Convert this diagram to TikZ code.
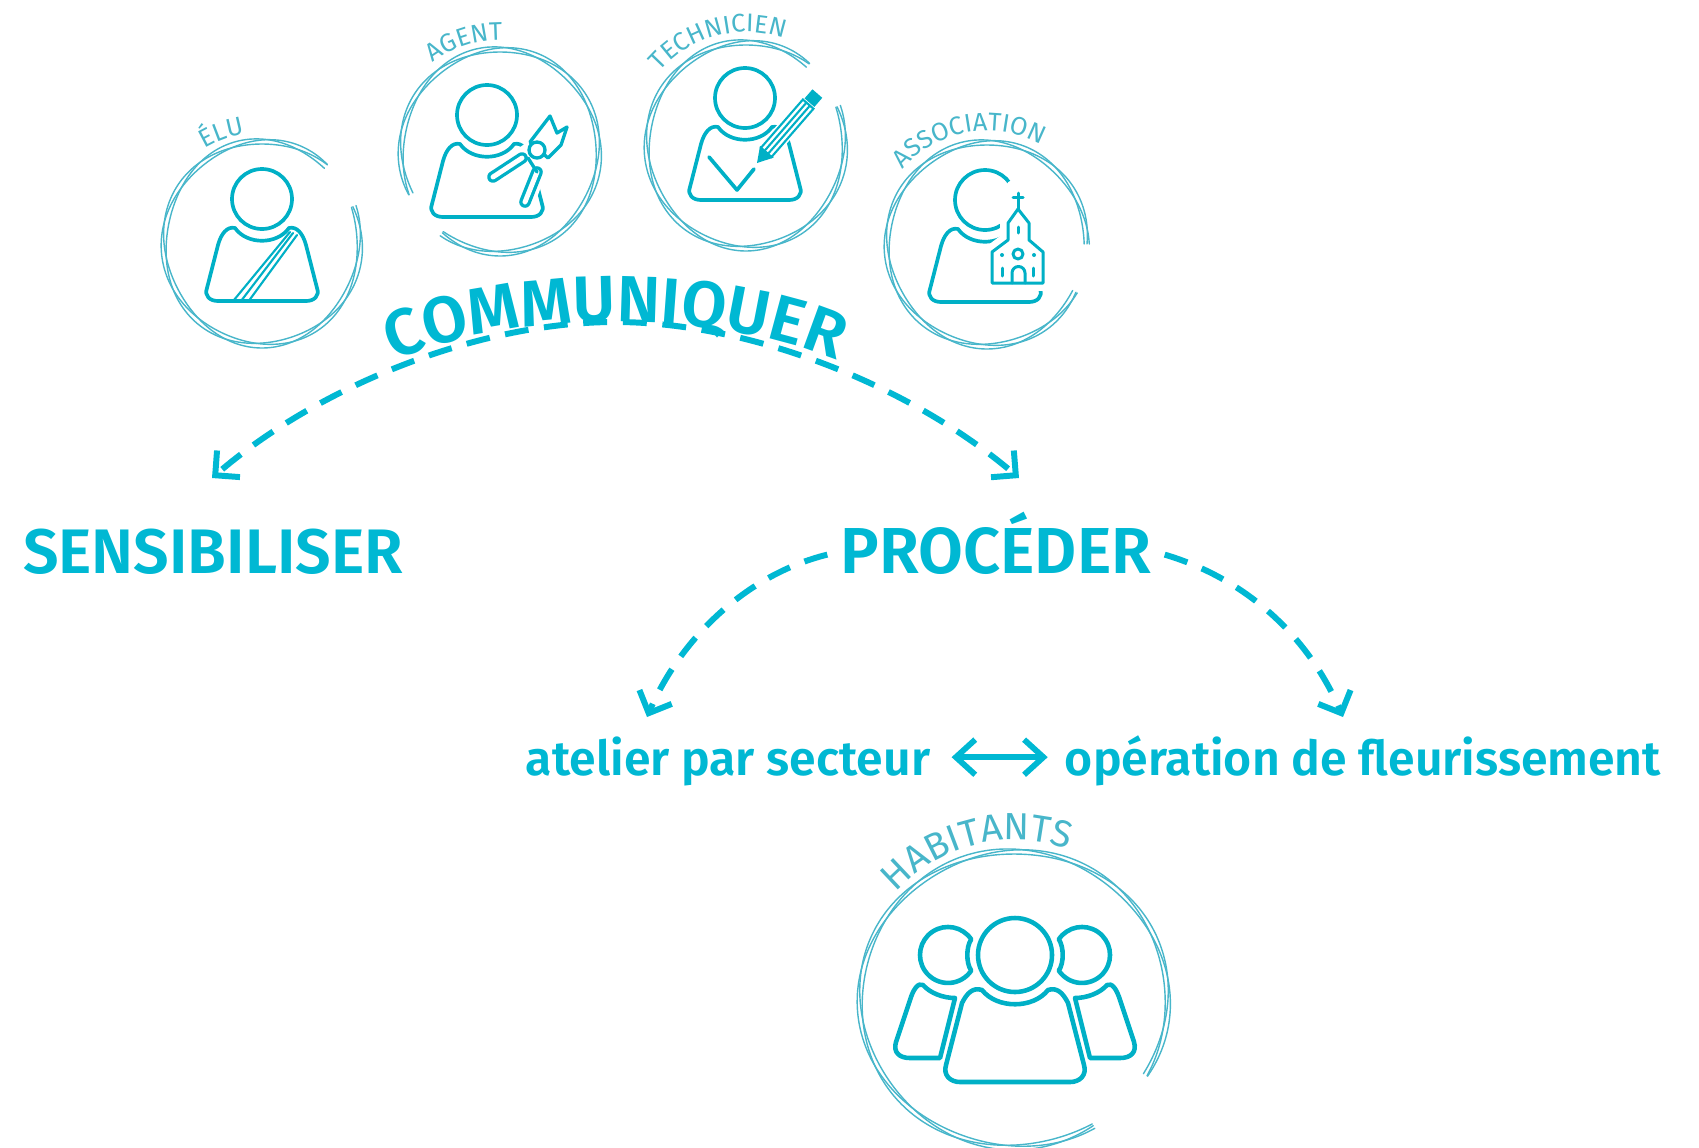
\documentclass[tikz,border=0pt]{standalone}
\usepackage{fontspec}
\usetikzlibrary{arrows.meta}
\usetikzlibrary{decorations.text}
\newfontfamily\headfont{Fira Sans SemiBold}
\newfontfamily\ringfont{Fira Sans}
\definecolor{headblue}{RGB}{0,184,211}
\definecolor{iconblue}{RGB}{0,176,198}
\definecolor{ringblue}{RGB}{72,182,202}
\tikzset{
  headtext/.style={text=headblue,font=\headfont\fontsize{#1}{#1}\selectfont,inner ysep=0pt,inner xsep=7.4pt},
  subtext/.style={text=headblue,font=\headfont\fontsize{27.4}{27.4}\selectfont,inner ysep=0pt,text height=27.3pt,text depth=7pt},
  dasharrow/.style={draw=headblue,line width=3.4pt,dash pattern=on 13.6pt off 8.9pt,-{Straight Barb[length=10pt,width=20pt]}},
  plainarrow/.style={draw=headblue,line width=3.3pt,{Straight Barb[length=11pt,width=20pt]}-{Straight Barb[length=11pt,width=20pt]}},
  iconline/.style={draw=iconblue,line width=2.1pt,line join=round,line cap=round},
  churchline/.style={draw=iconblue,line width=1.7pt,line join=round,line cap=round},
  thinicon/.style={draw=iconblue,line width=1.2pt,line cap=round},
  ringline/.style={draw=ringblue,line width=0.8pt,line cap=round},
  eraser/.style={draw=white,line cap=round,line join=round}
}
\newcommand{\sketchring}[6]{%
  \foreach \phase in {0,130,250}
    \draw[ringline] plot[domain=#5:#6,samples=90,smooth,variable=\t]
      ({#1+(#3+3*sin(3*\t+\phase))*cos(\t)},{#2-(#4+3*sin(3*\t+\phase))*sin(\t)});
}
\newcommand{\ringlabel}[6]{%
  \path[decorate,decoration={text along path,text={|#6\color{ringblue}|#5},text align=center}]
    ({#1+#3*cos(#4+70)},{#2-#3*sin(#4+70)}) arc[start angle=-#4-70,end angle=-#4+70,radius=#3];
}
\newcommand{\personicon}[2]{%
  \begin{scope}[shift={(#1,#2)}]
    \draw[iconline] (0,0) circle (30);
    \draw[iconline] (-27,29) .. controls (-15,46) and (15,46) .. (27,29) .. controls (35,27) and (41,35) .. (44,46)
      -- (55,89) .. controls (58,97) and (52,102) .. (44,102) -- (-44,102) .. controls (-52,102) and (-58,97) .. (-55,89)
      -- (-44,46) .. controls (-41,35) and (-35,27) .. (-27,29) -- cycle;
  \end{scope}
}
\newcommand{\smallfont}{\ringfont\fontsize{14.5}{14.5}\selectfont}
\newcommand{\largefont}{\ringfont\fontsize{21.5}{21.5}\selectfont}
\begin{document}
\begin{tikzpicture}[x=0.02cm,y=-0.02cm]
  \useasboundingbox (0,0) rectangle (1699,1147);

  \sketchring{262}{243}{98}{102}{49}{381}
  \ringlabel{262}{243}{110}{110}{ÉLU}{\smallfont}
  \personicon{262}{199}
  \draw[thinicon] (290,232) -- (234,300);
  \draw[thinicon] (293,233) -- (241,301);
  \draw[thinicon] (297,235) -- (248,302);

  \sketchring{500}{151}{99}{102}{234}{565}
  \ringlabel{500}{151}{111}{108}{AGENT}{\smallfont}
  \personicon{487}{115}
  \draw[eraser,line width=11pt] (537,170) -- (525,202);
  \draw[eraser,line width=11pt] (530,152) -- (493,177);
  \draw[eraser,line width=11pt] (537,150) -- (537,170);
  \draw[iconline,line width=1.9pt,fill=white] (530,142) -- (550,116) -- (557,133) -- (567,127) -- (561,145) -- (548,158) -- cycle;
  \draw[iconline,line width=1.9pt,double=white,double distance=2.8pt] (522,158) -- (493,177);
  \draw[iconline,line width=1.9pt,double=white,double distance=2.8pt] (537,172) -- (525,202);
  \draw[iconline,line width=1.9pt,fill=white] (537,150) circle (8);
  \draw[iconline,line width=1.9pt] (528,158) -- (537,172);

  \sketchring{746}{145}{99}{103}{51}{382}
  \ringlabel{746}{145}{113}{105}{TECHNICIEN}{\smallfont}
  \personicon{745}{98}
  \draw[iconline] (709,157) -- (737,190) -- (754,169);
  \begin{scope}[shift={(757,163)},rotate=49]
    \draw[eraser,line width=11pt] (6,0) -- (80,0);
    \draw[thinicon,fill=white] (14,-7) rectangle (78,7);
    \draw[thinicon] (15,-2.3) -- (78,-2.3);
    \draw[thinicon] (15,2.3) -- (78,2.3);
    \fill[iconblue] (0,0) -- (15,-9) -- (15,9) -- cycle;
    \fill[iconblue] (80,-6.5) rectangle (92,6.5);
  \end{scope}

  \sketchring{987}{244}{100}{102}{0}{332}
  \ringlabel{987}{244}{113}{100}{ASSOCIATION}{\smallfont}
  \personicon{985}{200}
  \draw[eraser,line width=12.5pt] (1016,190) -- (1016,225);
  \draw[eraser,line width=9pt] (992,283) -- (1043,283) -- (1043,252) -- (1029,240) -- (1029,223) -- (1018,209) -- (1008,223) -- (1008,240) -- (992,252) -- cycle;
  \draw[churchline,fill=white] (992,283) -- (1043,283) -- (1043,252) -- (1029,240) -- (1029,223) -- (1018,209) -- (1008,223) -- (1008,240) -- (992,252) -- cycle;
  \draw[churchline] (1018,209) -- (1018,193);
  \draw[churchline] (1013,197) -- (1023,197);
  \draw[churchline] (1018,227) -- (1018,233);
  \draw[churchline] (1018,254) circle (5);
  \fill[iconblue] (1002,255) circle (2);
  \fill[iconblue] (1034,255) circle (2);
  \draw[churchline] (1002,268) -- (1002,276);
  \draw[churchline] (1033,268) -- (1033,276);
  \draw[churchline] (1012,283) -- (1012,273) arc[start angle=180,end angle=360,radius=6.5] -- (1025,283);

  \node[headtext=35.8,anchor=base] (sensibiliser) at (213,573) {SENSIBILISER};
  \node[headtext=37,anchor=base] (proceder) at (996,573) {PROCÉDER};
  \node[subtext,anchor=base,inner xsep=12pt] (atelier) at (728,775) {atelier par secteur};
  \node[subtext,anchor=base,inner xsep=9.6pt] (operation) at (1363,775) {opération de fleurissement};

  \coordinate (comapex) at (615,322);
  \coordinate (sensitip) at (212,478);
  \coordinate (proctip) at (1019,478);
  \coordinate (ateliertip) at (647,717);
  \coordinate (operationtip) at (1343,717);

  \draw[dasharrow,dash phase=18pt] (comapex) .. controls (480,322) and (320,385) .. (sensitip);
  \draw[dasharrow,dash phase=18pt] (comapex) .. controls (750,322) and (910,385) .. (proctip);
  \draw[dasharrow] (proceder.184) .. controls (745,575) and (680,640) .. (ateliertip);
  \draw[dasharrow] (proceder.-4) .. controls (1250,580) and (1310,640) .. (operationtip);
  \draw[plainarrow] (atelier.east) -- (operation.west);

  \path[decorate,decoration={text along path,text={|\headfont\fontsize{37.2}{37.2}\selectfont\color{headblue}|COMMUNIQUER},text align=center}]
    (370,372) .. controls (495,305) and (735,305) .. (860,372);

  \sketchring{1014}{999}{154}{148}{-31}{301}
  \ringlabel{1014}{999}{159}{104}{HABITANTS}{\largefont}
  \begin{scope}[shift={(1015,955)}]
    \draw[iconline,line width=2.6pt] (0,0) circle (37);
    \draw[iconline,line width=2.6pt] (-33,35) .. controls (-18,54) and (18,54) .. (33,35) .. controls (42,32) and (48,38) .. (53,48)
      -- (69,110) .. controls (72,120) and (65,127) .. (55,127) -- (-55,127) .. controls (-65,127) and (-72,120) .. (-69,110)
      -- (-53,48) .. controls (-48,38) and (-42,32) .. (-33,35) -- cycle;
    \foreach \side in {1,-1} {
      \begin{scope}[xscale=\side]
        \draw[iconline,line width=2.6pt] (-43.8,-15.7) arc[start angle=-34,end angle=-326,radius=28]
          .. controls (-49,8) and (-49,-8) .. (-43.8,-15.7) -- cycle;
        \draw[iconline,line width=2.6pt] (-92,30) .. controls (-85,38) and (-72,43) .. (-60,43) -- (-75,103) -- (-105,103)
          .. controls (-116,103) and (-122,97) .. (-119,87) -- (-105,45) .. controls (-102,35) and (-97,27) .. (-92,30) -- cycle;
      \end{scope}
    }
  \end{scope}
\end{tikzpicture}
\end{document}
